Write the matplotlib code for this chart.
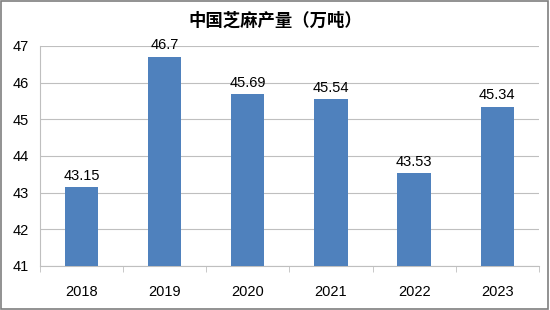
import matplotlib
matplotlib.use("Agg")
import matplotlib.pyplot as plt
from matplotlib.patches import Rectangle

plt.rcParams["font.family"] = ["Noto Sans CJK SC", "DejaVu Sans"]

years = ["2018", "2019", "2020", "2021", "2022", "2023"]
output = [43.15, 46.7, 45.69, 45.54, 43.53, 45.34]
labels = ["43.15", "46.7", "45.69", "45.54", "43.53", "45.34"]

BAR = "#4f81bd"
GRID = "#bfbfbf"

fig = plt.figure(figsize=(5.5, 3.1), dpi=100)
ax = fig.add_axes([0.0727, 0.142, 0.907, 0.71])

x = range(len(years))
ax.bar(x, [v - 41 for v in output], bottom=41, width=0.4, color=BAR, zorder=3)
for i, (v, t) in enumerate(zip(output, labels)):
    ax.text(i, v + 0.12, t, ha="center", va="bottom", fontsize=10.5,
            family="Liberation Sans", color="#000000", zorder=4)

ax.set_xlim(-0.5, len(years) - 0.5)
ax.set_ylim(41, 47)
ax.set_yticks(range(41, 48))
ax.yaxis.grid(True, color=GRID, lw=0.8, zorder=0)
ax.set_xticks(list(x))
ax.set_xticklabels(years)
ax.set_xticks([i - 0.5 for i in range(len(years) + 1)], minor=True)
ax.tick_params(axis="x", which="major", length=0, pad=14)
ax.tick_params(axis="x", which="minor", length=4, color=GRID, direction="out")
ax.tick_params(axis="y", length=0, pad=8)
for lab in ax.get_xticklabels() + ax.get_yticklabels():
    lab.set_fontsize(10.5)
    lab.set_family("Liberation Sans")
for s in ["top", "right"]:
    ax.spines[s].set_visible(False)
ax.spines["left"].set_color(GRID)
ax.spines["bottom"].set_color(GRID)

fig.text(0.5, 0.932, "中国芝麻产量（万吨）", ha="center", va="center",
         fontsize=12.5, fontweight="bold")
fig.add_artist(Rectangle((0.002, 0.003), 0.995, 0.993, transform=fig.transFigure,
                         fill=False, ec="#7f7f7f", lw=1.2))

fig.savefig("out.png", dpi=100)
